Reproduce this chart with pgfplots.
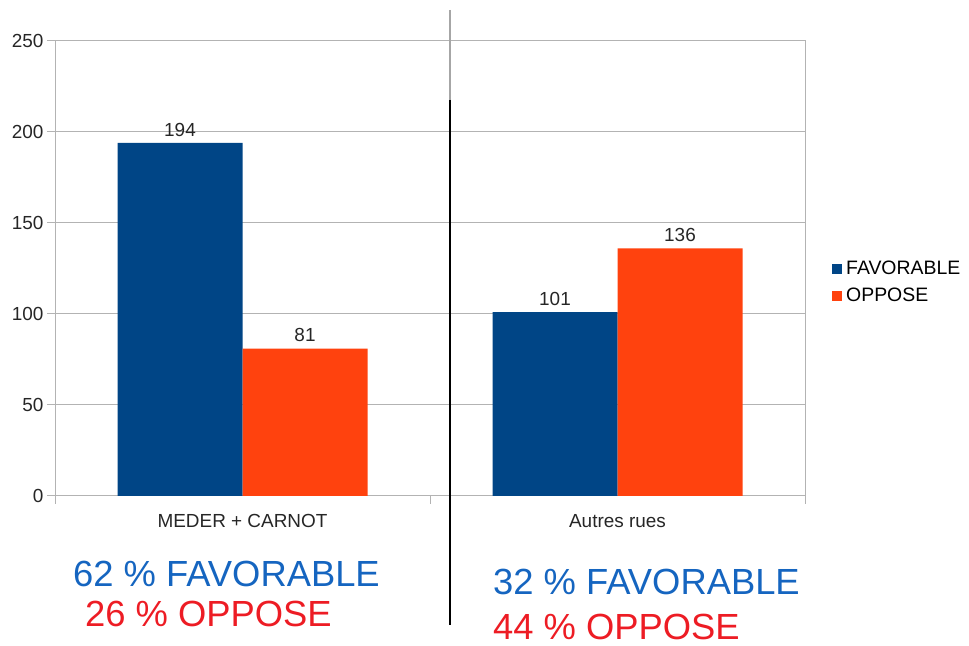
\documentclass[border=0pt]{standalone}
\usepackage{pgfplots}
\pgfplotsset{compat=1.18}
\usepackage{fontspec}
\setmainfont{Liberation Sans}
\definecolor{favblue}{HTML}{004586}
\definecolor{oppred}{HTML}{FF420E}
\definecolor{gridgray}{HTML}{B3B3B3}
\definecolor{txtblue}{RGB}{21,101,192}
\definecolor{txtred}{RGB}{237,28,36}
\pgfplotsset{sqlegend/.style={legend image code/.code={\fill[##1] (0bp,-5bp) rectangle (10bp,5bp);}}}
\begin{document}
\begin{tikzpicture}[x=1bp,y=1bp]
\useasboundingbox (0,0) rectangle (969,646);
\begin{axis}[
  at={(55bp,150bp)}, anchor=south west,
  scale only axis, width=750bp, height=455bp,
  xmin=-0.5, xmax=1.5, ymin=0, ymax=250,
  ybar=0pt, bar width=125bp,
  xtick={-0.5,0.5,1.5}, xticklabels={},
  extra x ticks={0,1},
  extra x tick labels={MEDER + CARNOT, Autres rues},
  extra x tick style={major tick length=0pt, xticklabel style={yshift=-15bp}},
  ytick={0,50,100,150,200,250},
  ymajorgrids, major grid style={gridgray, line width=1bp},
  axis line style={gridgray, line width=1bp},
  every tick/.style={gridgray, line width=1bp},
  tick align=outside, tick pos=left,
  major tick length=8bp,
  /pgf/number format/assume math mode=true,
  tick label style={font=\fontsize{19}{22}\selectfont, text=black!85},
  nodes near coords,
  every node near coord/.append style={font=\fontsize{19}{22}\selectfont, text=black!85, yshift=3bp},
  legend style={at={(1.036,0.47)}, anchor=west, draw=none, fill=none,
    font=\fontsize{19.5}{22}\selectfont, row sep=8bp, inner sep=0pt,
    nodes={inner xsep=4bp}},
  legend cell align=left,
]
\addplot[fill=favblue, draw=none, sqlegend]
  coordinates {(0,194) (1,101)};
\addplot[fill=oppred, draw=none, sqlegend]
  coordinates {(0,81) (1,136)};
\legend{FAVORABLE, OPPOSE}
\end{axis}
\draw[gray!70, line width=2bp] (450,636) -- (450,546);
\draw[black, line width=2bp] (450,546) -- (450,21);
\begin{scope}[every node/.style={inner sep=0pt, anchor=base west, font=\fontsize{36.5}{40}\selectfont}]
\node[text=txtblue] at (73,59) {62 \% FAVORABLE};
\node[text=txtred] at (85,19) {26 \% OPPOSE};
\node[text=txtblue] at (493,51) {32 \% FAVORABLE};
\node[text=txtred] at (493,6) {44 \% OPPOSE};
\end{scope}
\end{tikzpicture}
\end{document}
